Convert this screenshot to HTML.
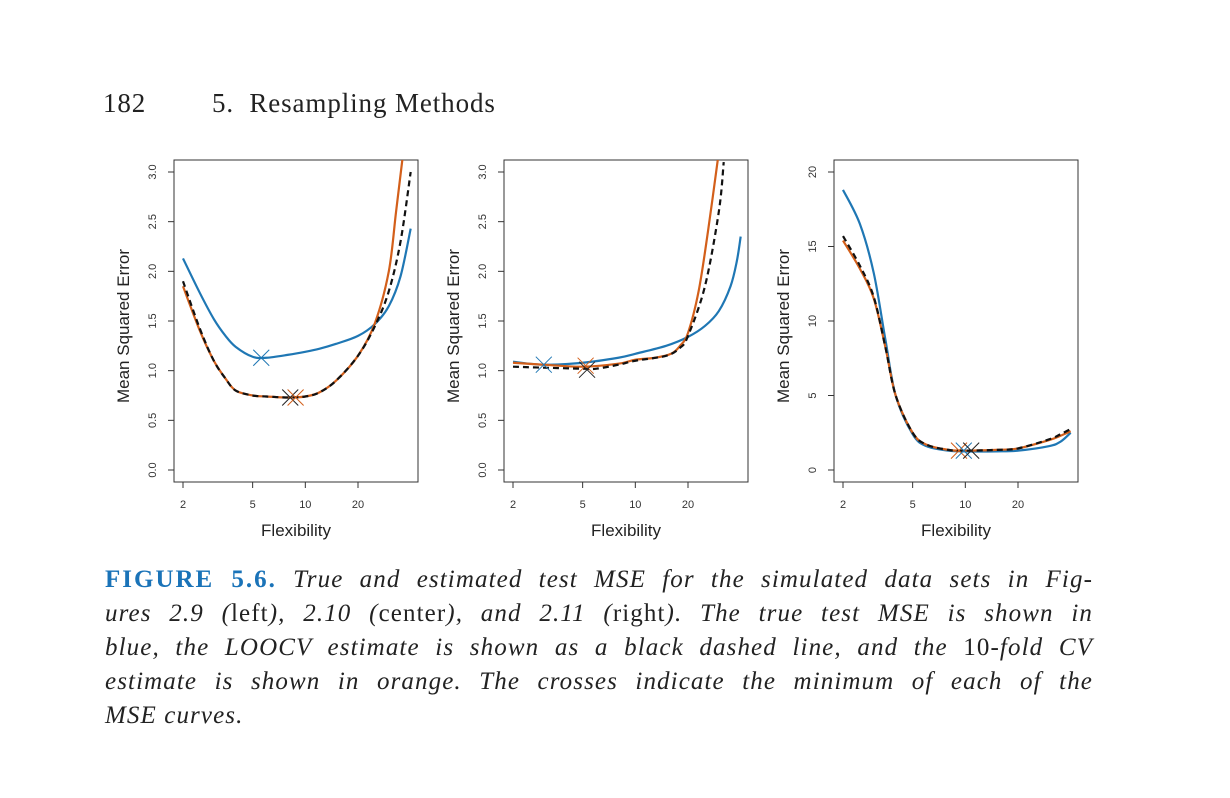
<!DOCTYPE html>
<html><head><meta charset="utf-8"><style>
body{margin:0;background:#fff;width:1230px;height:798px;overflow:hidden;position:relative;font-family:"Liberation Serif",serif}
.hdr{position:absolute;top:88px;font-size:27px;color:#222;letter-spacing:0.9px}
.cap{position:absolute;left:105px;width:988px;font-size:25px;font-style:italic;color:#222;text-align:justify;text-align-last:justify;white-space:nowrap;letter-spacing:1.1px}
.cap .r{font-style:normal}
.cap b{font-style:normal;color:#1a73b8;letter-spacing:2px}
svg{position:absolute;left:0;top:0}
</style></head><body>
<div class="hdr" style="left:103px">182</div>
<div class="hdr" style="left:212px">5.&nbsp; Resampling Methods</div>
<svg id="chart" width="1230" height="798"></svg>
<div class="cap" style="top:566px"><b>FIGURE 5.6.</b> True and estimated test MSE for the simulated data sets in Fig-</div>
<div class="cap" style="top:600px">ures 2.9 (<span class="r">left</span>), 2.10 (<span class="r">center</span>), and 2.11 (<span class="r">right</span>). The true test MSE is shown in</div>
<div class="cap" style="top:634px">blue, the LOOCV estimate is shown as a black dashed line, and the <span class="r">10</span>-fold CV</div>
<div class="cap" style="top:668px">estimate is shown in orange. The crosses indicate the minimum of each of the</div>
<div class="cap" style="top:702px;text-align-last:left">MSE curves.</div>
<script>
const xsA=[2,2.5,3,3.5,4,5,6,8,10,12,15,20,25,30,35,40];
const leftBlue=[2.13,1.78,1.52,1.35,1.24,1.14,1.13,1.16,1.19,1.22,1.27,1.35,1.47,1.65,1.95,2.43];
const xsLO=[2,2.5,3,3.5,4,5,6,8,10,12,15,20,25,30,33,36];
const leftOrange=[1.85,1.4,1.1,0.92,0.8,0.75,0.74,0.73,0.74,0.78,0.9,1.15,1.48,2.0,2.6,3.15];
const leftBlack=[1.9,1.42,1.1,0.92,0.8,0.75,0.74,0.73,0.74,0.78,0.9,1.15,1.45,1.8,2.3,3.0];
const xsB=[2,3,5,8,10,15,20,25,30,35,38,40];
const midBlue=[1.09,1.06,1.08,1.13,1.17,1.25,1.34,1.45,1.6,1.85,2.1,2.35];
const xsMO=[2,3,5,8,10,13,16,18,20,23,26,30];
const midOrange=[1.08,1.06,1.04,1.07,1.11,1.13,1.17,1.25,1.38,1.8,2.4,3.2];
const xsMK=[2,3,5,6,8,10,15,18,20,25,30,32];
const midBlack=[1.04,1.03,1.02,1.02,1.06,1.10,1.15,1.23,1.35,1.85,2.6,3.1];
const xsR=[2,2.5,3,3.5,4,5,6,8,10,15,20,30,35,40];
const rightBlue=[18.8,16.5,13.2,8.7,5.0,2.4,1.6,1.3,1.25,1.25,1.3,1.6,1.9,2.5];
const rightOrange=[15.4,13.5,11.5,8.2,5.0,2.5,1.7,1.35,1.3,1.35,1.45,2.0,2.3,2.6];
const rightBlack=[15.7,13.7,11.6,8.2,5.0,2.5,1.7,1.35,1.3,1.35,1.45,2.05,2.4,2.75];
const yTicksA=["0.0","0.5","1.0","1.5","2.0","2.5","3.0"];
const yTicksR=["0","5","10","15","20"];
const xTicks=[2,5,10,20];
const crossesL=[[5.6,1.13,"#1f77b4"],[8.2,0.73,"#222"],[8.8,0.73,"#d35f1a"]];
const crossesM=[[3,1.06,"#1f77b4"],[5.2,1.05,"#d35f1a"],[5.3,1.01,"#222"]];
const crossesR=[[9.2,1.3,"#d35f1a"],[9.8,1.3,"#1f77b4"],[10.8,1.3,"#222"]];
const NS="http://www.w3.org/2000/svg";
const svg=document.getElementById('chart');
function mk(t,a,p){const e=document.createElementNS(NS,t);for(const k in a)e.setAttribute(k,a[k]);(p||svg).appendChild(e);return e;}
function panel(name,left,ymax,yt,series,crosses){
  const g=mk('g',{});
  
  
  const x0=left+9,dec=175,y0=470,ppu=298/ymax;
  const X=v=>x0+(Math.log10(v)-Math.log10(2))*dec;
  const Y=v=>y0-v*ppu;
  const clip='c'+name;
  const cp=mk('clipPath',{id:clip},g);mk('rect',{x:left,y:160,width:244,height:322},cp);
  const box=mk('rect',{x:left,y:160,width:244,height:322,fill:'none',stroke:'#333','stroke-width':1},g);
  
  
  yt.forEach(t=>{const y=Y(+t);mk('line',{x1:left,x2:left-6,y1:y,y2:y,stroke:'#333'},g);
    const tx=mk('text',{x:left-18,y:y,transform:`rotate(-90 ${left-18} ${y})`,'text-anchor':'middle','font-size':11,'font-family':'Liberation Sans, sans-serif',fill:'#333'},g);tx.textContent=t;
    
    });
  xTicks.forEach(t=>{const x=X(t);mk('line',{x1:x,x2:x,y1:482,y2:488,stroke:'#333'},g);
    const tx=mk('text',{x:x,y:508,'text-anchor':'middle','font-size':11,'font-family':'Liberation Sans, sans-serif',fill:'#333'},g);tx.textContent=t;
    
    });
  const yl=mk('text',{x:left-50,y:321,transform:`rotate(-90 ${left-45} 321)`,'text-anchor':'middle','font-size':17,'font-family':'Liberation Sans, sans-serif',fill:'#222'},g);yl.textContent='Mean Squared Error';
  
  
  const xl=mk('text',{x:left+122,y:536,'text-anchor':'middle','font-size':17,'font-family':'Liberation Sans, sans-serif',fill:'#222'},g);xl.textContent='Flexibility';
  
  
  series.forEach(([xs,ys,col,dash,nm])=>{
    const P=xs.map((x,i)=>[X(x),Y(ys[i])]);
    let d='M'+P[0][0]+','+P[0][1];
    for(let i=0;i<P.length-1;i++){const p0=P[Math.max(0,i-1)],p1=P[i],p2=P[i+1],p3=P[Math.min(P.length-1,i+2)];
      d+=` C${p1[0]+(p2[0]-p0[0])/6},${p1[1]+(p2[1]-p0[1])/6} ${p2[0]-(p3[0]-p1[0])/6},${p2[1]-(p3[1]-p1[1])/6} ${p2[0]},${p2[1]}`;}
    const a={d:d,fill:'none',stroke:col,'stroke-width':2.2,'clip-path':`url(#${clip})`};
    if(dash)a['stroke-dasharray']='6,4';
    const pth=mk('path',a,g);
    
    
  });
  crosses.forEach(([x,y,c])=>{const cx=X(x),cy=Y(y),s=8;
    const cg=mk('g',{stroke:c,'stroke-width':1},g);
    
    
    mk('line',{x1:cx-s,y1:cy-s,x2:cx+s,y2:cy+s},cg);mk('line',{x1:cx-s,y1:cy+s,x2:cx+s,y2:cy-s},cg);});
}
panel('left-panel',174,3,yTicksA,[[xsA,leftBlue,'#1f77b4',false,'true-mse-line'],[xsLO,leftOrange,'#d35f1a',false,'cv10-line'],[xsA,leftBlack,'#111',true,'loocv-line']],crossesL);
panel('center-panel',504,3,yTicksA,[[xsB,midBlue,'#1f77b4',false,'true-mse-line'],[xsMO,midOrange,'#d35f1a',false,'cv10-line'],[xsMK,midBlack,'#111',true,'loocv-line']],crossesM);
panel('right-panel',834,20,yTicksR,[[xsR,rightBlue,'#1f77b4',false,'true-mse-line'],[xsR,rightOrange,'#d35f1a',false,'cv10-line'],[xsR,rightBlack,'#111',true,'loocv-line']],crossesR);
</script>
</body></html>
